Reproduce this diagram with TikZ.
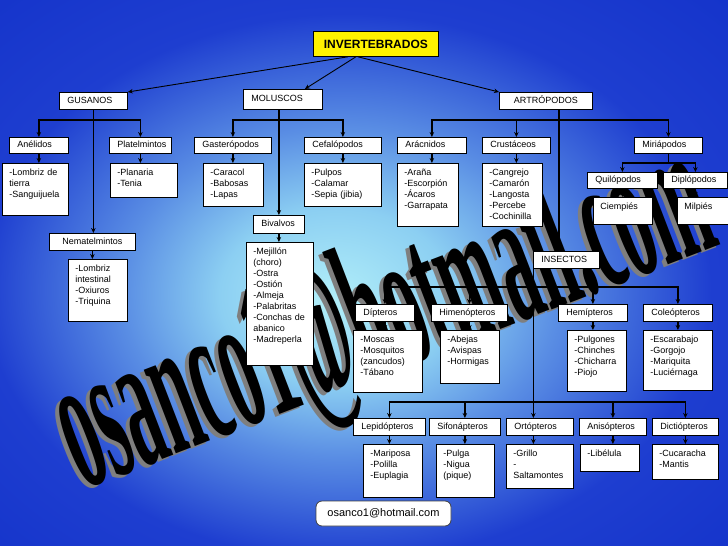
\documentclass[tikz,border=0pt]{standalone}
\usepackage{fontspec}
\setmainfont{Liberation Sans}
\newfontfamily\wmfont{Liberation Serif}
\usetikzlibrary{arrows.meta}
\definecolor{glowA}{HTML}{B2EFF9}
\definecolor{glowB}{HTML}{8CCFF2}
\definecolor{glowC}{HTML}{5A8EE4}
\definecolor{glowD}{HTML}{1E3ED0}
\definecolor{glowE}{HTML}{0A28C4}
\definecolor{wmgray}{HTML}{7F7F7F}
\pgfdeclareradialshading{bgglow}{\pgfpoint{-2.3bp}{-2.5bp}}{color(0bp)=(glowA); color(8bp)=(glowB); color(15bp)=(glowC); color(25bp)=(glowD); color(50bp)=(glowE)}
\hyphenpenalty=10000

\begin{document}
\begin{tikzpicture}[x=1pt,y=-1pt,>={Stealth[length=5pt,width=4.5pt]},
  hd/.style={draw,line width=0.8pt,fill=white,anchor=north west,font=\fontsize{9}{11}\selectfont,
    align=left,inner xsep=8pt,inner ysep=2pt,text height=6.5pt,text depth=2pt},
  lst/.style={draw,line width=0.8pt,fill=white,anchor=north west,font=\fontsize{9}{11}\selectfont,
    align=left,inner xsep=7pt,inner ysep=3pt,text height=9pt},
  tree/.style={->,line width=1.6pt},
  lnk/.style={->,line width=0.9pt}]
\useasboundingbox (0,0) rectangle (728,546);
\shade[shading=bgglow] (0,0) rectangle (728,546);
% watermark
\node[anchor=base west,inner sep=0pt,rotate=21,xscale=0.95,yscale=2.6,text=wmgray,
  font=\wmfont\bfseries\fontsize{75}{80}\selectfont] (wmS) at (78,493) {osanco1@hotmail.com};
\node[anchor=base west,inner sep=0pt,rotate=21,xscale=0.95,yscale=2.6,text=black,
  font=\wmfont\bfseries\fontsize{75}{80}\selectfont] (wm) at (82,490) {osanco1@hotmail.com};

% top
\node[draw,line width=0.8pt,fill=yellow,anchor=north west,minimum width=125pt,minimum height=25pt,
  font=\fontsize{12}{14}\selectfont\bfseries] (inv) at (313,31) {INVERTEBRADOS};
\node[hd,text width=52pt,minimum height=17pt] (gus) at (59,92) {GUSANOS};
\node[hd,text width=63pt,minimum height=20pt] (mol) at (243,89) {MOLUSCOS};
\node[hd,text width=77pt,minimum height=17pt,align=center] (art) at (499,92) {ARTRÓPODOS};

% gusanos
\node[hd,text width=43pt,minimum height=16pt] (ane) at (9,137) {Anélidos};
\node[hd,text width=46pt,minimum height=16pt] (pla) at (109,137) {Platelmintos};
\node[hd,text width=70pt,minimum height=17pt,align=center] (nem) at (49,233) {Nematelmintos};
\node[lst,text width=52pt,text depth=37pt] (aneL) at (2,163) {-Lombriz de\\tierra\\-Sanguijuela};
\node[lst,text width=53pt,text depth=19pt] (plaL) at (110,163) {-Planaria\\-Tenia};
\node[lst,text width=45pt,text depth=47pt] (nemL) at (68,259) {-Lombriz\\intestinal\\-Oxiuros\\-Triquina};

% moluscos
\node[hd,text width=61pt,minimum height=16pt] (gas) at (194,137) {Gasterópodos};
\node[hd,text width=61pt,minimum height=16pt] (cef) at (304,137) {Cefalópodos};
\node[hd,text width=35pt,minimum height=18pt] (biv) at (253,215) {Bivalvos};
\node[lst,text width=46pt,text depth=28pt] (gasL) at (203,163) {-Caracol\\-Babosas\\-Lapas};
\node[lst,text width=63pt,text depth=28pt] (cefL) at (304,163) {-Pulpos\\-Calamar\\-Sepia (jibia)};
\node[lst,text width=53pt,text depth=108pt] (bivL) at (246,242)
  {-Mejillón\\(choro)\\-Ostra\\-Ostión\\-Almeja\\-Palabritas\\-Conchas de\\abanico\\-Madreperla};

% artropodos
\node[hd,text width=53pt,minimum height=16pt] (ara) at (397,137) {Arácnidos};
\node[hd,text width=52pt,minimum height=16pt] (cru) at (482,137) {Crustáceos};
\node[hd,text width=52pt,minimum height=16pt] (mir) at (634,137) {Miriápodos};
\node[lst,text width=47pt,text depth=48pt] (araL) at (397,163) {-Araña\\-Escorpión\\-Ácaros\\-Garrapata};
\node[lst,text width=46pt,text depth=48pt] (cruL) at (482,163) {-Cangrejo\\-Camarón\\-Langosta\\-Percebe\\-Cochinilla};
\node[hd,text width=54pt,minimum height=16pt] (qui) at (587,172) {Quilópodos};
\node[hd,text width=48pt,minimum height=16pt] (dip) at (663,172) {Diplópodos};
\node[lst,text width=45pt,text depth=12pt] (cie) at (593,197) {Ciempiés};
\node[lst,text width=39pt,text depth=12pt] (mil) at (677,197) {Milpiés};

% insectos
\node[hd,text width=50pt,minimum height=17pt] (ins) at (533,251) {INSECTOS};
\node[hd,text width=43pt,minimum height=17pt] (dpt) at (355,304) {Dípteros};
\node[hd,text width=60pt,minimum height=17pt] (him) at (431,304) {Himenópteros};
\node[hd,text width=53pt,minimum height=17pt] (hem) at (558,304) {Hemípteros};
\node[hd,text width=53pt,minimum height=17pt] (col) at (643,304) {Coleópteros};
\node[lst,text width=55pt,text depth=47pt] (dptL) at (353,330) {-Moscas\\-Mosquitos\\(zancudos)\\-Tábano};
\node[lst,text width=45pt,text depth=38pt] (himL) at (440,330) {-Abejas\\-Avispas\\-Hormigas};
\node[lst,text width=45pt,text depth=46pt] (hemL) at (567,330) {-Pulgones\\-Chinches\\-Chicharra\\-Piojo};
\node[lst,text width=55pt,text depth=45pt] (colL) at (643,330) {-Escarabajo\\-Gorgojo\\-Mariquita\\-Luciérnaga};
\node[hd,text width=56pt,minimum height=17pt] (lep) at (353,418) {Lepidópteros};
\node[hd,text width=55pt,minimum height=17pt] (sif) at (429,418) {Sifonápteros};
\node[hd,text width=51pt,minimum height=17pt] (ort) at (506,418) {Ortópteros};
\node[hd,text width=51pt,minimum height=17pt] (ani) at (579,418) {Anisópteros};
\node[hd,text width=50pt,minimum height=17pt] (dic) at (652,418) {Dictiópteros};
\node[lst,text width=45pt,text depth=38pt] (lepL) at (363,444) {-Mariposa\\-Polilla\\-Euplagia};
\node[lst,text width=44pt,text depth=38pt] (sifL) at (436,444) {-Pulga\\-Nigua\\(pique)};
\node[lst,text width=53pt,text depth=29pt] (ortL) at (506,444) {-Grillo\\-\\Saltamontes};
\node[lst,text width=45pt,text depth=12pt] (aniL) at (580,444) {-Libélula};
\node[lst,text width=52pt,text depth=20pt] (dicL) at (652,444) {-Cucaracha\\-Mantis};

\node[draw=black!75,line width=0.8pt,fill=white,rounded corners=6pt,minimum width=135pt,minimum height=25pt,
  font=\fontsize{11}{13}\selectfont] (mail) at (383.5,513.5) {osanco1@hotmail.com};

% connectors
\draw[lnk] ([xshift=-28pt]inv.south) -- (gus.north east);
\draw[lnk] ([xshift=-20pt]inv.south) -- ([xshift=22pt]mol.north);
\draw[lnk] ([xshift=-18pt]inv.south) -- (art.north west);

\draw[tree] (gus.south) -- ++(0,10) -| (ane.north);
\draw[tree] (gus.south) -- ++(0,10) -| (pla.north);
\draw[tree] (gus.south) -- (gus.south |- nem.north);
\foreach \p in {ane,pla,nem,gas,cef,biv,ara,cru}
  \draw[tree] (\p.south) -- (\p.south |- \p L.north);

\draw[tree] (biv.north |- mol.south) -- ++(0,10) -| (gas.north);
\draw[tree] (biv.north |- mol.south) -- ++(0,10) -| (cef.north);
\draw[tree] (biv.north |- mol.south) -- (biv.north);

\foreach \c in {ara,cru,mir}
  \draw[tree] ([xshift=13pt]art.south) -- ++(0,10) -| (\c.north);
\draw[tree] ([xshift=13pt]art.south) -- ([xshift=13pt]art.south |- ins.north);

\draw[tree] (mir.south) -- ++(0,9) -| (qui.north);
\draw[tree] (mir.south) -- ++(0,9) -| (dip.north);
\draw[tree] (qui.south) -- (qui.south |- cie.north);
\draw[tree] (dip.south) -- (dip.south |- mil.north);

\coordinate (insT) at ([xshift=-33pt]ins.south);
\foreach \c in {dpt,him,hem,col}
  \draw[tree] (insT) -- ++(0,18) -| (\c.north);
\foreach \c in {lep,sif,ani,dic}
  \draw[tree] (insT) -- ++(0,133) -| (\c.north);
\draw[tree] (insT) -- (insT |- ort.north);
\draw[tree] (insT |- ort.south) -- (insT |- ortL.north);
\foreach \p in {dpt,him,hem,col,lep,sif,ani,dic}
  \draw[tree] (\p.south) -- (\p.south |- \p L.north);
\end{tikzpicture}
\end{document}
